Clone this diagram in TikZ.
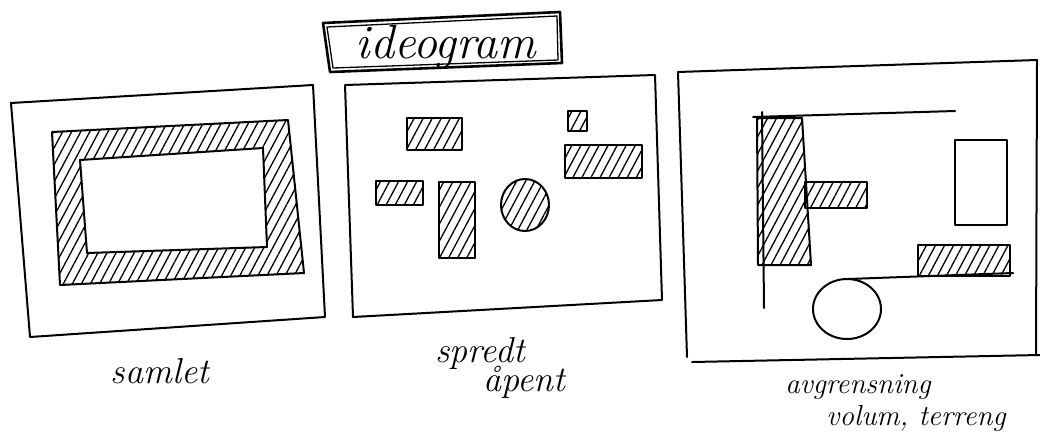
\documentclass[tikz,border=0pt]{standalone}
\usetikzlibrary{patterns.meta}
\begin{document}
\begin{tikzpicture}[x=1pt,y=-1pt,
  pen/.style={line width=2pt, line join=round, line cap=round},
  hatch/.style={pen, pattern={Lines[angle=62,distance=8pt,line width=1.3pt]}},
  hand/.style={font=\fontsize{36}{40}\selectfont\itshape, inner sep=0pt, anchor=base},
  small/.style={hand, font=\fontsize{29}{32}\selectfont\itshape}]
\useasboundingbox[fill=white] (0,0) rectangle (1040,437);

% title
\draw[line width=2.6pt, line join=round] (323,23) -- (560,12) -- (562,63) -- (330,72) -- cycle;
\draw[line width=1.3pt, line join=round] (327,27) -- (557,16) -- (558,60) -- (333,68) -- cycle;
\node[hand, font=\fontsize{48}{52}\selectfont\itshape] (title) at (446,58) {ideogram};

% panel 1: samlet
\draw[pen] (11,103) -- (313,85) -- (325,317) -- (30,337) -- cycle;
\draw[hatch, even odd rule] (52,132) -- (288,120) -- (304,273) -- (60,285) -- cycle
  (80,160) -- (263,148) -- (267,247) -- (87,253) -- cycle;
\node[hand] (samlet) at (160,383) {samlet};

% panel 2: spredt
\draw[pen] (345,85) -- (655,75) -- (662,300) -- (353,317) -- cycle;
\draw[hatch] (407,118) rectangle (462,150);
\draw[hatch] (568,111) rectangle (587,131);
\draw[hatch] (565,145) rectangle (642,178);
\draw[hatch] (376,181) rectangle (423,205);
\draw[hatch] (439,182) rectangle (475,258);
\draw[hatch] (525,205) ellipse [x radius=24pt, y radius=26pt];
\node[hand] (spredt) at (480,362) {spredt};
\node[hand] (apent) at (524,391) {åpent};

% panel 3: avgrensning
\draw[pen] (678,72) -- (1037,60) -- (1036,355);
\draw[pen] (678,72) -- (687,357);
\draw[pen] (692,362) -- (1040,355);
\draw[hatch] (757,118) -- (802,118) -- (811,265) -- (758,265) -- cycle;
\draw[pen] (762,112) -- (764,308);
\draw[pen] (753,117) -- (955,111);
\draw[hatch] (805,182) rectangle (867,208);
\draw[pen] (955,140) rectangle (1007,225);
\draw[hatch] (918,245) rectangle (1010,276);
\draw[pen] (1013,273) -- (848,279);
\draw[pen] (847,309) ellipse [x radius=34pt, y radius=30pt];
\node[small] (avgr) at (858,393) {avgrensning};
\node[small] (volum) at (916,425) {volum, terreng};
\end{tikzpicture}
\end{document}
